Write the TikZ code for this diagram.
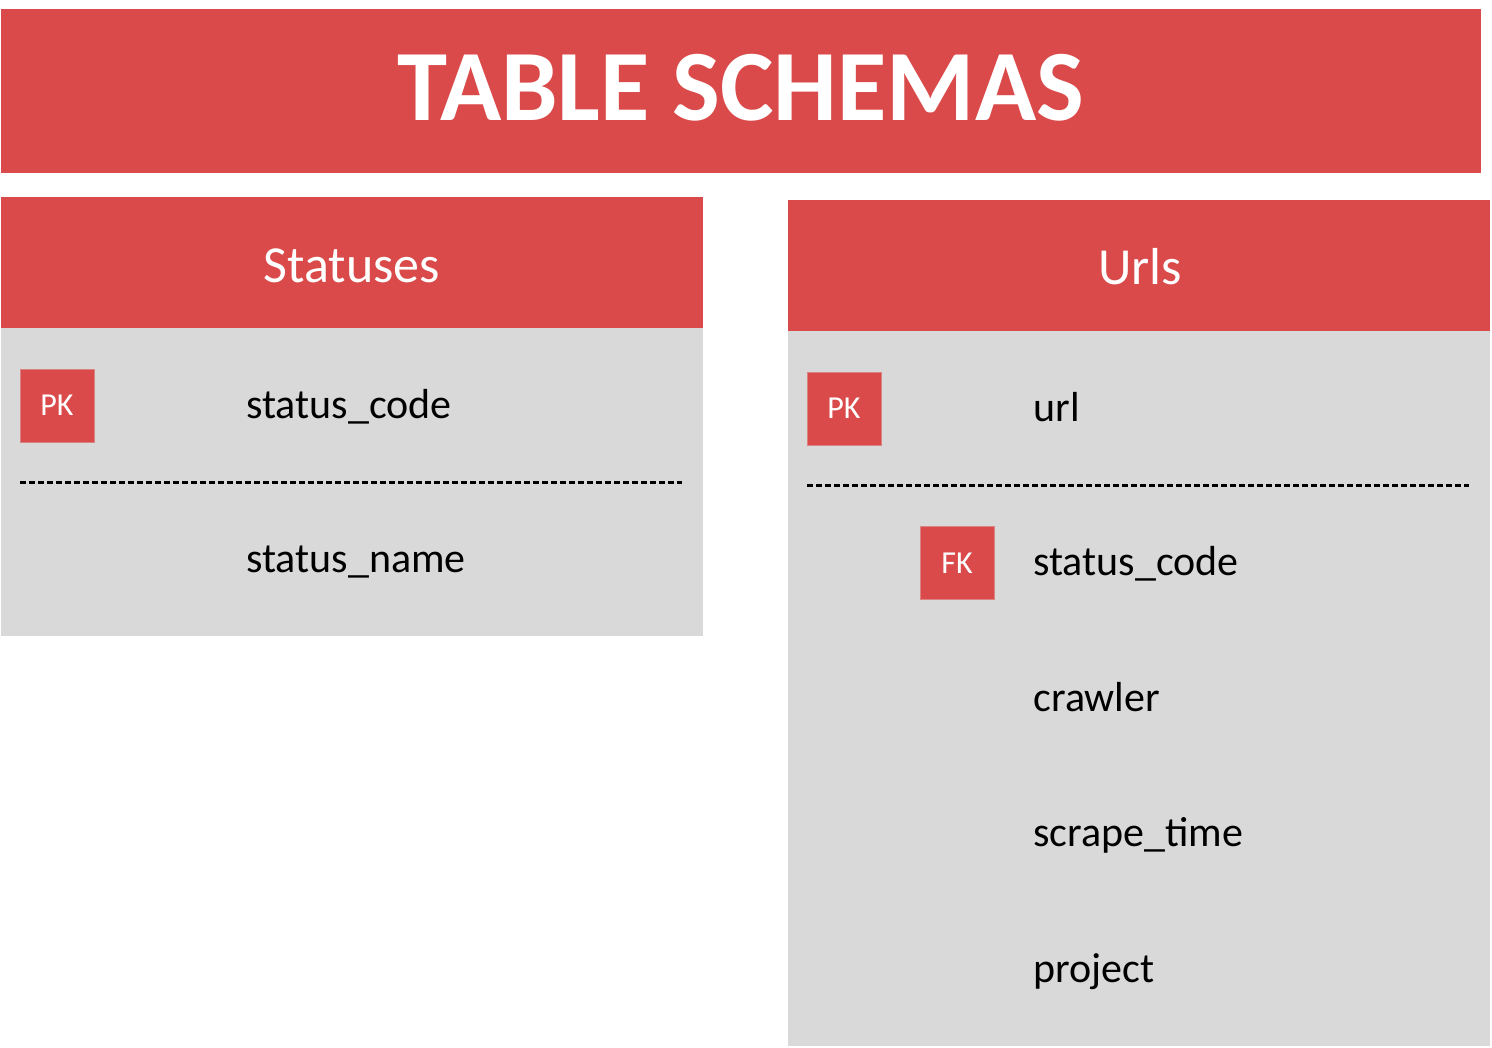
\documentclass[tikz,border=0pt]{standalone}
\usepackage{fontspec}
\setmainfont{Carlito}
\definecolor{hdred}{RGB}{219,74,74}
\definecolor{bodygrey}{RGB}{217,217,217}
\tikzset{
  redbox/.style={fill=hdred, draw=none},
  greybox/.style={fill=bodygrey, draw=none},
  titletext/.style={text=white, font=\fontsize{50.5pt}{56pt}\selectfont\bfseries, inner sep=0pt, anchor=base},
  headtext/.style={text=white, font=\fontsize{26pt}{31pt}\selectfont, inner sep=0pt, anchor=base},
  fieldtext/.style={text=black, font=\fontsize{21pt}{25pt}\selectfont, inner sep=0pt, anchor=base west},
  keytext/.style={text=white, font=\fontsize{16pt}{19pt}\selectfont, inner sep=0pt, anchor=base},
  keybox/.style={fill=hdred, draw=hdred!60!bodygrey, line width=0.5pt},
  sep/.style={black, dashed, dash pattern=on 3pt off 1.5pt, line width=1.5pt}
}
\begin{document}
\begin{tikzpicture}[x=0.5pt,y=-0.5pt]
\useasboundingbox (0,0) rectangle (1492,1048);
\fill[white] (0,0) rectangle (1492,1048);
% title
\path[redbox] (1,9) rectangle (1481,173);
\node[titletext] (title) at (741,121) {TABLE SCHEMAS};
% Statuses table
\path[redbox] (1,197) rectangle (703,328);
\path[greybox] (1,328) rectangle (703,636);
\node[headtext] (statuses) at (352,282) {Statuses};
\path[keybox] (20,369) rectangle (94,442);
\node[keytext] (pk1) at (57,415) {PK};
\node[fieldtext] (s1) at (246,418) {status\_code};
\coordinate (d1a) at (20,482);
\coordinate (d1b) at (682,482);
\draw[sep] (d1a) -- (d1b);
\node[fieldtext] (s2) at (246,572) {status\_name};
% Urls table
\path[redbox] (788,200) rectangle (1490,331);
\path[greybox] (788,331) rectangle (1490,1046);
\node[headtext] (urls) at (1140,285) {Urls};
\path[keybox] (807,372) rectangle (881,445);
\node[keytext] (pk2) at (844,418) {PK};
\node[fieldtext] (u1) at (1033,421) {url};
\coordinate (d2a) at (807,485);
\coordinate (d2b) at (1469,485);
\draw[sep] (d2a) -- (d2b);
\path[keybox] (920,526) rectangle (994,599);
\node[keytext] (fk) at (957,573) {FK};
\node[fieldtext] (u2) at (1033,575) {status\_code};
\node[fieldtext] (u3) at (1033,711) {crawler};
\node[fieldtext] (u4) at (1033,846) {scrape\_time};
\node[fieldtext] (u5) at (1033,982) {project};
\end{tikzpicture}
\end{document}
